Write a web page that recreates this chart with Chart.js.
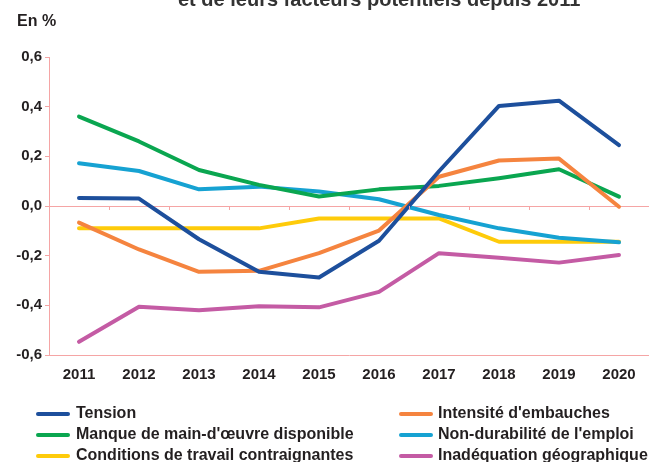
<!DOCTYPE html>
<html>
<head>
<meta charset="utf-8">
<script src="https://cdn.jsdelivr.net/npm/chart.js@4.4.0/dist/chart.umd.min.js"></script>
<style>
  body { margin: 0; background: #fff; }
</style>
</head>
<body>
<canvas id="chart" width="649" height="462"></canvas>
<script>
const years = ['2011', '2012', '2013', '2014', '2015', '2016', '2017', '2018', '2019', '2020'];

const tension = [0.032, 0.03, -0.134, -0.265, -0.288, -0.14, 0.14, 0.403, 0.424, 0.245];
const intensite = [-0.067, -0.175, -0.265, -0.261, -0.19, -0.099, 0.118, 0.183, 0.191, -0.003];
const manque = [0.36, 0.26, 0.145, 0.085, 0.038, 0.067, 0.081, 0.112, 0.148, 0.038];
const nonDurabilite = [0.172, 0.141, 0.067, 0.078, 0.058, 0.027, -0.036, -0.09, -0.128, -0.146];
const conditions = [-0.09, -0.09, -0.09, -0.09, -0.05, -0.05, -0.05, -0.144, -0.144, -0.144];
const inadequation = [-0.547, -0.406, -0.42, -0.404, -0.408, -0.346, -0.19, -0.208, -0.228, -0.197];

const seriesNames = [
  'Tension',
  "Intensité d'embauches",
  "Manque de main-d'œuvre disponible",
  "Non-durabilité de l'emploi",
  'Conditions de travail contraignantes',
  'Inadéquation géographique'
];
const seriesColors = ['#1d4f9c', '#f5843f', '#0aa650', '#16a2d2', '#fecb0a', '#c45ba4'];
const seriesValues = [tension, intensite, manque, nonDurabilite, conditions, inadequation];

const axisPink = '#f5a5a5';
const textColor = '#231f20';
const fontFamily = '"Liberation Sans", Arial, sans-serif';

function fmt(v) {
  let r = Math.round(v * 10) / 10;
  if (Object.is(r, -0)) r = 0;
  return r.toFixed(1).replace('.', ',');
}

// title, unit label, ticks on the zero line, and the two-column legend
const extras = {
  id: 'extras',
  afterDraw(chart) {
    const ctx = chart.ctx;
    const xs = chart.scales.x;
    const ys = chart.scales.y;
    ctx.save();

    ctx.fillStyle = '#333333';
    ctx.font = 'bold 20px ' + fontFamily;
    ctx.textAlign = 'left';
    ctx.textBaseline = 'alphabetic';
    ctx.fillText('et de leurs facteurs potentiels depuis 2011', 178, 6);

    ctx.fillStyle = textColor;
    ctx.font = 'bold 16px ' + fontFamily;
    ctx.textBaseline = 'middle';
    ctx.fillText('En %', 17, 22);

    // small ticks on the 0 line between categories
    const y0 = ys.getPixelForValue(0);
    ctx.strokeStyle = axisPink;
    ctx.lineWidth = 1;
    for (let i = 1; i < years.length; i++) {
      const x = Math.round((xs.getPixelForValue(i - 1) + xs.getPixelForValue(i)) / 2) + 0.5;
      ctx.beginPath();
      ctx.moveTo(x, y0);
      ctx.lineTo(x, y0 + 4);
      ctx.stroke();
    }

    // legend
    const cols = [{ line: 38, text: 76 }, { line: 401, text: 438 }];
    const rows = [414, 435, 456];
    chart.data.datasets.forEach((ds, i) => {
      const c = cols[i % 2];
      const y = rows[Math.floor(i / 2)];
      ctx.strokeStyle = ds.borderColor;
      ctx.lineWidth = 4;
      ctx.lineCap = 'round';
      ctx.beginPath();
      ctx.moveTo(c.line, y);
      ctx.lineTo(c.line + 30, y);
      ctx.stroke();
      ctx.fillStyle = textColor;
      ctx.font = 'bold 16px ' + fontFamily;
      ctx.textBaseline = 'middle';
      ctx.fillText(ds.label, c.text, y);
    });
    ctx.restore();
  }
};

const ctx = document.getElementById('chart').getContext('2d');
const myChart = new Chart(ctx, {
  type: 'line',
  data: {
    labels: years,
    datasets: seriesNames.map((name, i) => ({
      label: name,
      data: seriesValues[i],
      borderColor: seriesColors[i],
      backgroundColor: seriesColors[i],
      borderWidth: 4,
      borderCapStyle: 'round',
      borderJoinStyle: 'round',
      pointRadius: 0,
      tension: 0,
      fill: false
    }))
  },
  options: {
    responsive: false,
    animation: false,
    layout: {
      padding: { top: 57, left: 0, right: 0, bottom: 77 }
    },
    plugins: {
      legend: { display: false },
      title: { display: false },
      tooltip: { enabled: false }
    },
    scales: {
      x: {
        offset: true,
        grid: {
          display: true,
          offset: true,
          drawOnChartArea: false,
          drawTicks: false
        },
        border: { display: true, color: axisPink, width: 1 },
        ticks: {
          color: textColor,
          padding: 11,
          maxRotation: 0,
          font: { family: fontFamily, size: 15, weight: 'bold' }
        },
        afterFit(scale) { scale.height = 30; }
      },
      y: {
        min: -0.6,
        max: 0.6,
        grid: {
          color: (c) => (c.tick && Math.abs(c.tick.value) < 1e-9 ? axisPink : 'rgba(0,0,0,0)'),
          tickColor: axisPink,
          tickLength: 4,
          lineWidth: 1
        },
        border: { display: true, color: axisPink, width: 1 },
        ticks: {
          stepSize: 0.2,
          color: textColor,
          padding: 3,
          font: { family: fontFamily, size: 15, weight: 'bold' },
          callback: (v) => fmt(v)
        },
        afterFit(scale) { scale.width = 49; }
      }
    }
  },
  plugins: [extras]
});
</script>
</body>
</html>
